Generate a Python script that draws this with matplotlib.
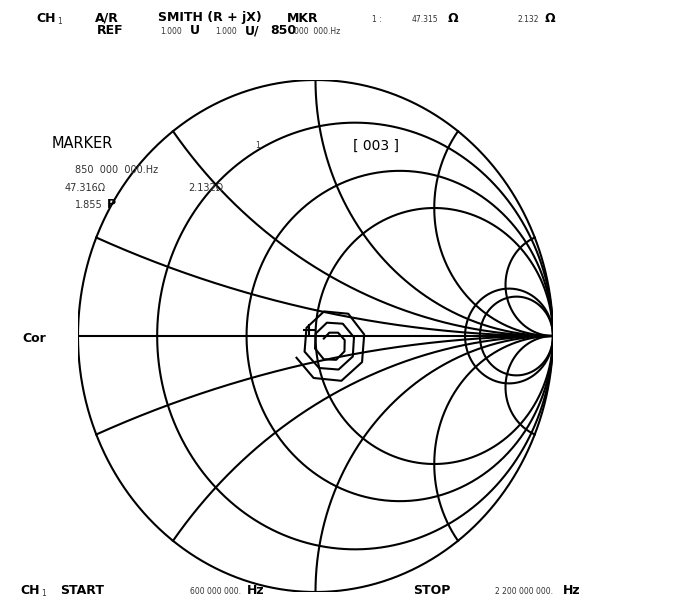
import numpy as np
import matplotlib.pyplot as plt

# Smith chart grid
r_circles = [0.2, 0.55, 1.0, 4.4, 5.5]
x_arcs = [0.2, 0.5, 1.0, 2.0, 5.0, -0.2, -0.5, -1.0, -2.0, -5.0]

trace_re = [-0.08, -0.008, 0.109, 0.196, 0.205, 0.138, 0.036, -0.038, -0.046, 0.015,
            0.097, 0.157, 0.162, 0.115, 0.048, 0.001, -0.002, 0.035, 0.087, 0.122,
            0.123, 0.095, 0.058, 0.035]
trace_im = [-0.085, -0.164, -0.175, -0.102, 0.006, 0.087, 0.096, 0.032, -0.061, -0.125,
            -0.131, -0.08, -0.005, 0.048, 0.052, 0.01, -0.049, -0.091, -0.093, -0.06,
            -0.016, 0.013, 0.013, -0.01]

marker_z = (47.316 + 2.132j) / 50.0

W, H = 681, 612
fig = plt.figure(figsize=(W / 100, H / 100), dpi=100)

# chart axes: gamma -1..1 mapped onto the (slightly tall) screen circle
left, right, top, bottom = 78, 553, 80, 592
ax = fig.add_axes([left / W, 1 - bottom / H, (right - left) / W, (bottom - top) / H])
ax.set_xlim(-1, 1)
ax.set_ylim(-1, 1)
ax.axis("off")

lw = 1.5
t = np.linspace(0, 2 * np.pi, 600)
ax.plot(np.cos(t), np.sin(t), color="black", lw=lw)
ax.plot([-1, 1], [0, 0], color="black", lw=lw)

for r in r_circles:
    c = r / (1 + r)
    rad = 1 / (1 + r)
    ax.plot(c + rad * np.cos(t), rad * np.sin(t), color="black", lw=lw)

rr = np.concatenate([np.linspace(0, 1, 200), np.logspace(0, 3, 300)])
for x in x_arcs:
    z = rr + 1j * x
    g = (z - 1) / (z + 1)
    ax.plot(g.real, g.imag, color="black", lw=lw)

ax.plot(trace_re, trace_im, color="black", lw=lw)
gm = (marker_z - 1) / (marker_z + 1)
ax.plot(gm.real, gm.imag, marker="+", color="black", ms=9, mew=1.5)

# screen annotations in pixel coordinates
tx = fig.add_axes([0, 0, 1, 1])
tx.set_xlim(0, W)
tx.set_ylim(H, 0)
tx.axis("off")
tx.patch.set_alpha(0)

big = dict(fontsize=9, fontweight="bold", color="black", va="center", ha="left")
small = dict(fontsize=5.5, color="#333333", va="center", ha="left")

tx.text(36, 18, "CH", **big)
tx.text(57, 21, "1", **small)
tx.text(95, 18, "A/R", **big)
tx.text(158, 18, "SMITH (R + jX)", **big)
tx.text(287, 18, "MKR", **big)
tx.text(372, 19, "1 :", **small)
tx.text(412, 19, "47.315", **small)
tx.text(448, 18, "Ω", **big)
tx.text(518, 19, "2.132", **small)
tx.text(545, 18, "Ω", **big)

tx.text(97, 31, "REF", **big)
tx.text(160, 32, "1.000", **small)
tx.text(190, 31, "U", **big)
tx.text(215, 32, "1.000", **small)
tx.text(245, 31, "U/", **big)
tx.text(270, 31, "850", **big)
tx.text(294, 32, "000  000.Hz", **small)

tx.text(52, 143, "MARKER", fontsize=10.5, color="black", va="center", ha="left")
tx.text(255, 146, "1", **small)
tx.text(75, 170, "850  000  000.Hz", fontsize=7, color="#333333", va="center", ha="left")
tx.text(65, 188, "47.316Ω", fontsize=7, color="#333333", va="center", ha="left")
tx.text(188, 188, "2.132Ω", fontsize=7, color="#333333", va="center", ha="left")
tx.text(75, 205, "1.855", fontsize=7, color="#333333", va="center", ha="left")
tx.text(107, 205, "P", **big)
tx.text(353, 146, "[ 003 ]", fontsize=10, color="black", va="center", ha="left")

tx.text(22, 338, "Cor", **big)

tx.text(20, 590, "CH", **big)
tx.text(41, 593, "1", **small)
tx.text(60, 590, "START", **big)
tx.text(190, 591, "600 000 000.", **small)
tx.text(247, 590, "Hz", **big)
tx.text(413, 590, "STOP", **big)
tx.text(495, 591, "2 200 000 000.", **small)
tx.text(563, 590, "Hz", **big)

fig.savefig("out.png", dpi=100, facecolor="white")
